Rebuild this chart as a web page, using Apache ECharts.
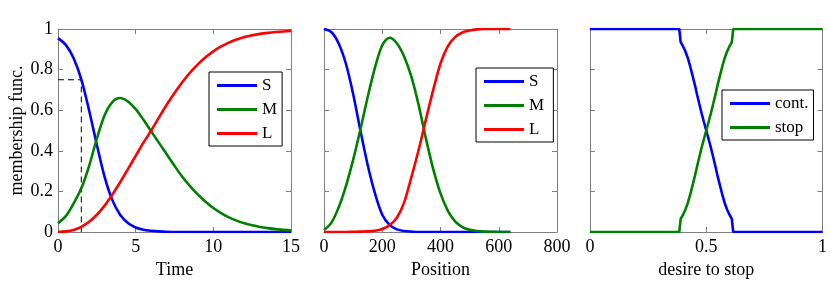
<!DOCTYPE html>
<html>
<head>
<meta charset="utf-8">
<script src="https://cdn.jsdelivr.net/npm/echarts@6/dist/echarts.min.js"></script>
<style>
html,body{margin:0;padding:0;background:#fff;}
#c{width:830px;height:292px;}
</style>
</head>
<body>
<div id="c"></div>
<script>
// ---- Panel 1: Time ----
const timeX = [0,0.5,1,1.5,2,2.5,3,3.5,4,4.5,5,5.5,6,6.5,7,7.5,8,8.5,9,9.5,10,10.5,11,11.5,12,12.5,13,13.5,14,14.5,15];
const timeS = [0.955,0.922,0.857,0.752,0.6,0.43,0.272,0.157,0.085,0.044,0.022,0.011,0.006,0.003,0.001,0,0,0,0,0,0,0,0,0,0,0,0,0,0,0,0];
const timeM = [0.043,0.078,0.14,0.215,0.325,0.46,0.575,0.64,0.66,0.643,0.605,0.553,0.496,0.439,0.383,0.326,0.272,0.226,0.185,0.149,0.118,0.093,0.072,0.056,0.043,0.033,0.025,0.019,0.014,0.011,0.008];
const timeL = [0,0.003,0.01,0.025,0.05,0.085,0.13,0.185,0.245,0.31,0.375,0.44,0.5,0.565,0.627,0.685,0.738,0.785,0.826,0.861,0.89,0.914,0.933,0.948,0.96,0.969,0.976,0.981,0.985,0.988,0.99];
const dashGuide = [[0,0.75],[1.5,0.75],[1.5,0]];

// ---- Panel 2: Position ----
const posX = [0,25,50,75,100,125,150,175,200,225,250,275,300,325,350,375,400,425,450,475,500,525,550,575,600,625,640];
const posS = [1,0.985,0.93,0.83,0.68,0.5,0.33,0.19,0.085,0.035,0.013,0.005,0.002,0,0,0,0,0,0,0,0,0,0,0,0,0,0];
const posM = [0.01,0.045,0.12,0.225,0.355,0.505,0.665,0.81,0.92,0.957,0.93,0.865,0.765,0.625,0.46,0.31,0.19,0.105,0.052,0.024,0.011,0.005,0.002,0.001,0,0,0];
const posL = [0,0,0,0,0.001,0.002,0.003,0.006,0.015,0.033,0.07,0.145,0.27,0.405,0.555,0.7,0.83,0.915,0.96,0.983,0.993,0.998,1,1,1,1,1];

// ---- Panel 3: desire to stop ----
const desireX = [0,0.384,0.39,0.4,0.41,0.42,0.43,0.44,0.45,0.46,0.47,0.48,0.49,0.5,0.51,0.52,0.53,0.54,0.55,0.56,0.57,0.58,0.59,0.6,0.61,0.616,1];
const contVals = [1,1,0.935,0.915,0.89,0.86,0.82,0.775,0.73,0.68,0.632,0.585,0.542,0.5,0.458,0.415,0.368,0.32,0.27,0.225,0.18,0.14,0.11,0.085,0.065,0,0];
const stopVals = [0,0,0.065,0.085,0.11,0.14,0.18,0.225,0.27,0.32,0.368,0.415,0.458,0.5,0.542,0.585,0.632,0.68,0.73,0.775,0.82,0.86,0.89,0.915,0.935,1,1];

// ---- ticks ----
const yTicks = [0,0.2,0.4,0.6,0.8,1];
const xTicks1 = [0,5,10,15];
const xTicks2 = [0,200,400,600,800];
const xTicks3 = [0,0.5,1];

const FONT = 'Liberation Serif';
const GRAY = '#7f7f7f';
const BLUE = '#0000ff', GREEN = '#008000', RED = '#ff0000';

function zip(xs, ys){ return xs.map((x,i)=>[x, ys[i]]); }

const grids = [
  {left:58, top:29, width:233, height:203},
  {left:324, top:29, width:233, height:203},
  {left:590, top:29, width:233, height:203}
];
const xCfg = [
  {ticks:xTicks1, name:'Time'},
  {ticks:xTicks2, name:'Position'},
  {ticks:xTicks3, name:'desire to stop'}
];

const xAxes = [], yAxes = [];
xCfg.forEach((c,i)=>{
  const mn = c.ticks[0], mx = c.ticks[c.ticks.length-1], iv = c.ticks[1]-c.ticks[0];
  xAxes.push({gridIndex:i, type:'value', min:mn, max:mx, interval:iv, position:'bottom',
    axisLine:{show:true, onZero:false, lineStyle:{color:GRAY,width:1}},
    axisTick:{show:true, inside:true, length:5, lineStyle:{color:GRAY}},
    axisLabel:{show:true, margin:6, color:'#000', fontSize:18, fontFamily:FONT},
    splitLine:{show:false},
    name:c.name, nameLocation:'middle', nameGap:24,
    nameTextStyle:{color:'#000', fontSize:18, fontFamily:FONT}});
  xAxes.push({gridIndex:i, type:'value', min:mn, max:mx, interval:iv, position:'top',
    axisLine:{show:true, onZero:false, lineStyle:{color:GRAY,width:1}},
    axisTick:{show:true, inside:true, length:5, lineStyle:{color:GRAY}},
    axisLabel:{show:false}, splitLine:{show:false}});
  yAxes.push({gridIndex:i, type:'value', min:yTicks[0], max:yTicks[yTicks.length-1], interval:yTicks[1]-yTicks[0], position:'left',
    axisLine:{show:true, onZero:false, lineStyle:{color:GRAY,width:1}},
    axisTick:{show:true, inside:true, length:5, lineStyle:{color:GRAY}},
    axisLabel:{show:i===0, margin:5, color:'#000', fontSize:18, fontFamily:FONT},
    splitLine:{show:false},
    name: i===0 ? 'membership func.' : '', nameLocation:'middle', nameGap:31,
    nameTextStyle:{color:'#000', fontSize:18, fontFamily:FONT}});
  yAxes.push({gridIndex:i, type:'value', min:yTicks[0], max:yTicks[yTicks.length-1], interval:yTicks[1]-yTicks[0], position:'right',
    axisLine:{show:true, onZero:false, lineStyle:{color:GRAY,width:1}},
    axisTick:{show:true, inside:true, length:5, lineStyle:{color:GRAY}},
    axisLabel:{show:false}, splitLine:{show:false}});
});

function line(name, data, color, gi, smooth){
  return {type:'line', name:name, data:data, xAxisIndex:gi*2, yAxisIndex:gi*2,
    showSymbol:false, symbol:'none', smooth:smooth,
    lineStyle:{color:color, width:2.6}, itemStyle:{color:color}, animation:false};
}

const series = [
  {type:'line', name:'guide', data:dashGuide, xAxisIndex:0, yAxisIndex:0, showSymbol:false, symbol:'none',
   lineStyle:{color:'#000', width:1, type:[6,4]}, animation:false, silent:true},
  line('S', zip(timeX,timeS), BLUE, 0, 0.3),
  line('M', zip(timeX,timeM), GREEN, 0, 0.3),
  line('L', zip(timeX,timeL), RED, 0, 0.3),
  line('S ', zip(posX,posS), BLUE, 1, 0.3),
  line('M ', zip(posX,posM), GREEN, 1, 0.3),
  line('L ', zip(posX,posL), RED, 1, 0.3),
  line('cont.', zip(desireX,contVals), BLUE, 2, false),
  line('stop', zip(desireX,stopVals), GREEN, 2, false)
];

function legend(names, left, top){
  return {show:true, orient:'vertical', left:left, top:top, data:names,
    icon:'rect', itemWidth:40, itemHeight:3, itemGap:7, itemTextGap:5,
    borderColor:'#000', borderWidth:1, padding:[5,5,4,8], backgroundColor:'#fff',
    selectedMode:false,
    textStyle:{color:'#000', fontSize:17, fontFamily:FONT}};
}

const chart = echarts.init(document.getElementById('c'), null, {renderer:'canvas'});
chart.setOption({
  animation:false,
  backgroundColor:'#fff',
  grid: grids,
  xAxis: xAxes,
  yAxis: yAxes,
  legend: [
    legend(['S','M','L'], 209, 72),
    legend(['S ','M ','L '], 476, 68),
    legend(['cont.','stop'], 722, 90)
  ],
  series: series
});
</script>
</body>
</html>
